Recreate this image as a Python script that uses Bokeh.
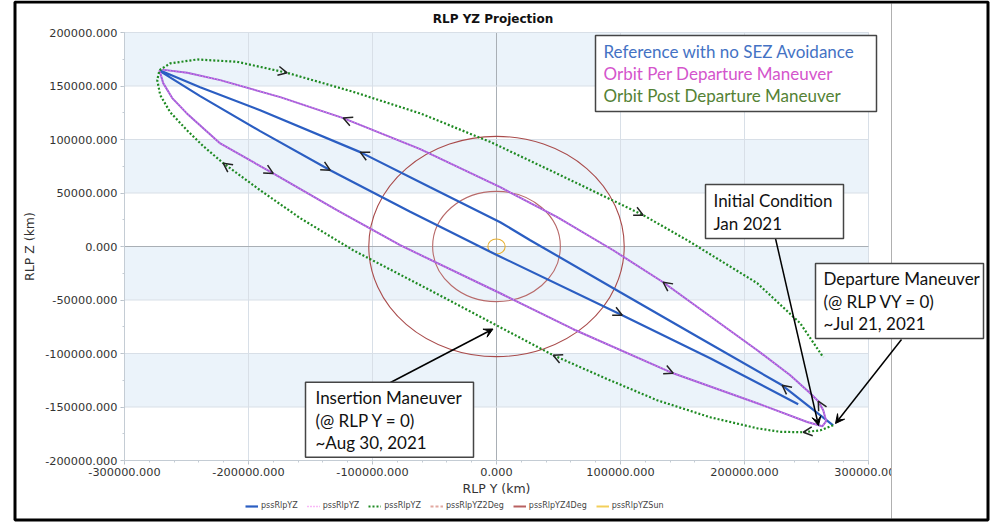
from bokeh.plotting import figure
from bokeh.models import (Range1d, SingleIntervalTicker, NumeralTickFormatter, BoxAnnotation,
                          Label, Arrow, OpenHead, VeeHead, Legend, LegendItem)
from bokeh.embed import file_html
from bokeh.resources import INLINE

# ---------------- data (RLP Y, RLP Z in km) ----------------
ref_y = [271500, 230400, 164300, 99800, 27200, 3000, -53500, -109900, -190600, -239000,
         -268800, -271800, -268800, -239000, -190600, -134100, -69600, -5100, 101400, 172300, 243300]
ref_z = [-167100, -129700, -85700, -42700, 5900, 22700, 55400, 88200, 127400, 148900,
         163300, 164800, 162000, 140500, 107800, 71300, 32400, -5000, -64200, -104400, -147400]

per_y = [-271800, -268800, -261500, -249700, -222800, -180100, -128700, -77700, 3000, 61900,
         142500, 210300, 250600, 262700, 265900, 263500, 259500, 253000, 236900, 210300,
         172300, 134400, 94100, 49000, 3000, -61500, -123600, -174400, -222800, -249400, -269600]
per_z = [164800, 152700, 138700, 124400, 96300, 68300, 33900, 1200, -43700, -77300,
         -118500, -146500, -164000, -168000, -163300, -153100, -144600, -137200, -120300, -97000,
         -65200, -33400, -3500, 27400, 55400, 91000, 120000, 139600, 155500, 162300, 165300]

post_y = [271500, 261100, 247400, 228800, 210300, 172300, 129600, 87700, 45700, 3000,
          -53500, -115600, -158300, -190600, -220400, -236500, -249700, -263200, -271200, -273600,
          -271800, -263200, -241400, -209100, -168800, -115600, -61500, -5100, 51400, 118300,
          153800, 210300, 244900, 263500]
post_z = [-167100, -171800, -173600, -173200, -169900, -159600, -143700, -123100, -101600, -75500,
          -40900, -3500, 26500, 52600, 77900, 93800, 108700, 125600, 141500, 155500,
          164800, 171100, 174800, 172600, 162300, 144600, 124400, 97800, 66700, 29300,
          5900, -34300, -71700, -103500]

# direction chevrons: vertex index where a chevron sits (pointing along travel)
ref_arrow_idx = [1, 7, 15, 18]
per_arrow_idx = [5, 10, 16, 21, 26]
post_arrow_idx = [2, 8, 14, 24, 29]

# exclusion zones centred on the origin (radius, km)
zone_names = ["pssRlpYZ2Deg", "pssRlpYZ4Deg", "pssRlpYZSun"]
zone_radius = [51500, 103000, 7000]
zone_center_y = [0]
zone_center_z = [0]

# axes
x_ticks = [-300000, -200000, -100000, 0, 100000, 200000, 300000]
y_ticks = [-200000, -150000, -100000, -50000, 0, 50000, 100000, 150000, 200000]

legend_texts = ["Reference with no SEZ Avoidance", "Orbit Per Departure Maneuver",
                "Orbit Post Departure Maneuver"]
series_names = ["pssRlpYZ", "pssRlpYZ", "pssRlpYZ"]

# ---------------- layout ----------------
W, H = 990, 523
X0, X1, Y0, Y1 = x_ticks[0], x_ticks[-1], y_ticks[0], y_ticks[-1]
L, R, T, B = 124, 868, 32, 460   # pixel box of the chart's plotting area


def dx(px):
    return X0 + (px - L) * (X1 - X0) / (R - L)


def dy(py):
    return Y1 - (py - T) * (Y1 - Y0) / (B - T)


p = figure(width=W, height=H, x_range=Range1d(dx(0), dx(W)), y_range=Range1d(dy(H), dy(0)),
           output_backend="svg", toolbar_location=None, min_border=0,
           min_border_left=0, min_border_right=0, min_border_top=0, min_border_bottom=0)
p.outline_line_color = None
p.background_fill_color = "white"
p.border_fill_color = "white"
p.xgrid.visible = False
p.ygrid.visible = False

xt = SingleIntervalTicker(interval=100000, num_minor_ticks=5)
yt = SingleIntervalTicker(interval=50000, num_minor_ticks=2)
p.xaxis.ticker = xt
p.yaxis.ticker = yt
p.xaxis.fixed_location = Y0
p.yaxis.fixed_location = X0
p.xaxis.bounds = (X0, X1)
p.yaxis.bounds = (Y0, Y1)
for ax in (p.xaxis[0], p.yaxis[0]):
    ax.formatter = NumeralTickFormatter(format="0.000")
    ax.major_label_text_font = "DejaVu Sans"
    ax.major_label_text_font_size = "11.3px"
    ax.major_label_text_color = "#333333"
    ax.axis_label_text_font = "DejaVu Sans"
    ax.axis_label_text_font_size = "12.5px"
    ax.axis_label_text_font_style = "normal"
    ax.axis_label_text_color = "#333333"
    ax.axis_line_color = "#C4CCD4"
    ax.major_tick_line_color = "#B8C0C8"
    ax.minor_tick_line_color = "#C4CCD4"
    ax.major_tick_in = 0
    ax.major_tick_out = 4
    ax.minor_tick_in = 0
    ax.minor_tick_out = 2
    ax.major_label_standoff = 3
p.xaxis.axis_label = "RLP Y (km)"
p.yaxis.axis_label = "RLP Z (km)"
p.xaxis.axis_label_standoff = 2
p.yaxis.axis_label_standoff = 5

# alternating horizontal bands
for k in range(len(y_ticks) - 1, 0, -2):
    p.add_layout(BoxAnnotation(left=X0, right=X1, bottom=y_ticks[k - 1], top=y_ticks[k],
                               fill_color="#EBF3FA", fill_alpha=1, line_alpha=0, level="image"))

# grid lines from the tick values
grid_col_x = ["#A9AFB5" if v == 0 else "#D8DFE7" for v in x_ticks]
grid_col_y = ["#A9AFB5" if v == 0 else "#D8DFE7" for v in y_ticks]
p.segment(x0=x_ticks, y0=[Y0] * len(x_ticks), x1=x_ticks, y1=[Y1] * len(x_ticks),
          line_color=grid_col_x, line_width=1)
p.segment(x0=[X0] * len(y_ticks), y0=y_ticks, x1=[X1] * len(y_ticks), y1=y_ticks,
          line_color=grid_col_y, line_width=1)
p.add_layout(BoxAnnotation(left=X0, right=X1, bottom=Y0, top=Y1, fill_alpha=0, line_alpha=1,
                           line_color="#DDE3EA", line_width=1, level="underlay"))

# exclusion zones (drawn as circles; legend shows their line style)
zone_colors = ["#B86A6A", "#A94B4B", "#E8B030"]
zone_legend_colors = ["#E2A8A0", "#B86060", "#F2CF5A"]
zone_legend_dash = ["3 2", "solid", "solid"]
zone_proxy = []
for name, rad, col, lcol, dash in zip(zone_names, zone_radius, zone_colors,
                                      zone_legend_colors, zone_legend_dash):
    p.ellipse(x=zone_center_y, y=zone_center_z, width=[2 * rad], height=[2 * rad], fill_alpha=0,
              line_color=col, line_width=1.1)
    # single-point line: invisible on the chart, gives the legend its line swatch
    zone_proxy.append(p.line(x=zone_center_y, y=zone_center_z, line_color=lcol, line_width=2,
                             line_dash=dash))

# trajectories
r_ref = p.line(ref_y, ref_z, line_color="#2B5EC2", line_width=2.2)
r_per_base = p.line(per_y, per_z, line_color="#9A62D6", line_width=2.0)
r_per = p.line(per_y, per_z, line_color="#F277F0", line_width=1.3, line_dash="1 2")
r_post = p.line(post_y, post_z, line_color="#1E8A22", line_width=2.2, line_dash="2 2")

for ys, zs, idxs in ((ref_y, ref_z, ref_arrow_idx), (per_y, per_z, per_arrow_idx),
                     (post_y, post_z, post_arrow_idx)):
    for k in idxs:
        p.add_layout(Arrow(end=OpenHead(size=9, line_width=1.5, line_color="#222222"),
                           x_start=ys[k - 1], y_start=zs[k - 1], x_end=ys[k], y_end=zs[k],
                           line_alpha=0))

# bottom legend
items = [LegendItem(label=series_names[0], renderers=[r_ref]),
         LegendItem(label=series_names[1], renderers=[r_per]),
         LegendItem(label=series_names[2], renderers=[r_post])]
for name, rr in zip(zone_names, zone_proxy):
    items.append(LegendItem(label=name, renderers=[rr]))
leg = Legend(items=items, orientation="horizontal", location=(245, 13))
leg.label_text_font = "DejaVu Sans"
leg.label_text_font_size = "8px"
leg.label_text_color = "#444444"
leg.glyph_width = 13
leg.glyph_height = 8
leg.label_standoff = 3
leg.spacing = 9
leg.padding = 0
leg.margin = 0
leg.label_height = 9
leg.border_line_alpha = 0
leg.background_fill_alpha = 0
p.add_layout(leg)

# title
p.add_layout(Label(x=dx(492.5), y=dy(18), text="RLP YZ Projection", text_font="DejaVu Sans",
                   text_font_size="12px", text_font_style="bold", text_color="#111111",
                   text_align="center", text_baseline="middle"))


# ---------------- callout boxes ----------------
def box(x0, y0, x1, y1, color="#454545", width=1.5):
    p.add_layout(BoxAnnotation(left=dx(x0), right=dx(x1), top=dy(y0), bottom=dy(y1),
                               fill_color="white", fill_alpha=1, line_color=color, line_alpha=1,
                               line_width=width, level="annotation"))


def text(x, y, s, color="#111111", size="17px"):
    p.add_layout(Label(x=dx(x), y=dy(y), text=s, text_font="Lato", text_font_size=size,
                       text_color=color, text_align="left", text_baseline="middle",
                       level="annotation"))


def pointer(x0, y0, x1, y1):
    p.add_layout(Arrow(end=VeeHead(size=9, fill_color="black", line_color="black", line_width=1),
                       x_start=dx(x0), y_start=dy(y0), x_end=dx(x1), y_end=dy(y1),
                       line_color="black", line_width=1.5, level="annotation"))


# panel divider, which also clips the last tick label
p.add_layout(BoxAnnotation(left=dx(891.5), right=dx(985), top=dy(463), bottom=dy(484),
                           fill_color="white", fill_alpha=1, line_alpha=0, level="annotation"))
p.add_layout(BoxAnnotation(left=dx(890.5), right=dx(891.5), top=dy(3), bottom=dy(518),
                           fill_color="#B0B0B0", fill_alpha=1, line_alpha=0, level="annotation"))

box(595, 35, 876, 111)
legend_colors = ["#4472C4", "#D455CC", "#548235"]
for i, (s, c) in enumerate(zip(legend_texts, legend_colors)):
    text(603, 50.7 + i * 22.2, s, color=c)

pointer(775, 238, 818, 425)
box(705, 184, 843, 238)
text(713, 200, "Initial Condition")
text(713, 222.7, "Jan 2021")

pointer(901, 339, 835, 423)
box(815, 263, 983, 338)
text(823, 278.3, "Departure Maneuver")
text(823, 301, "(@ RLP VY = 0)")
text(823, 323.3, "~Jul 21, 2021")

pointer(390, 382, 492.5, 328.5)
box(305, 381.7, 473, 456.7)
text(315, 396.7, "Insertion Maneuver")
text(315, 419.5, "(@ RLP Y = 0)")
text(315, 441.7, "~Aug 30, 2021")

# outer black frame
p.add_layout(BoxAnnotation(left=dx(14.5), right=dx(987.5), top=dy(1.5), bottom=dy(519.5),
                           fill_alpha=0, line_alpha=1, line_color="black", line_width=3,
                           level="overlay"))

open("out.html", "w").write(file_html(p, INLINE))
